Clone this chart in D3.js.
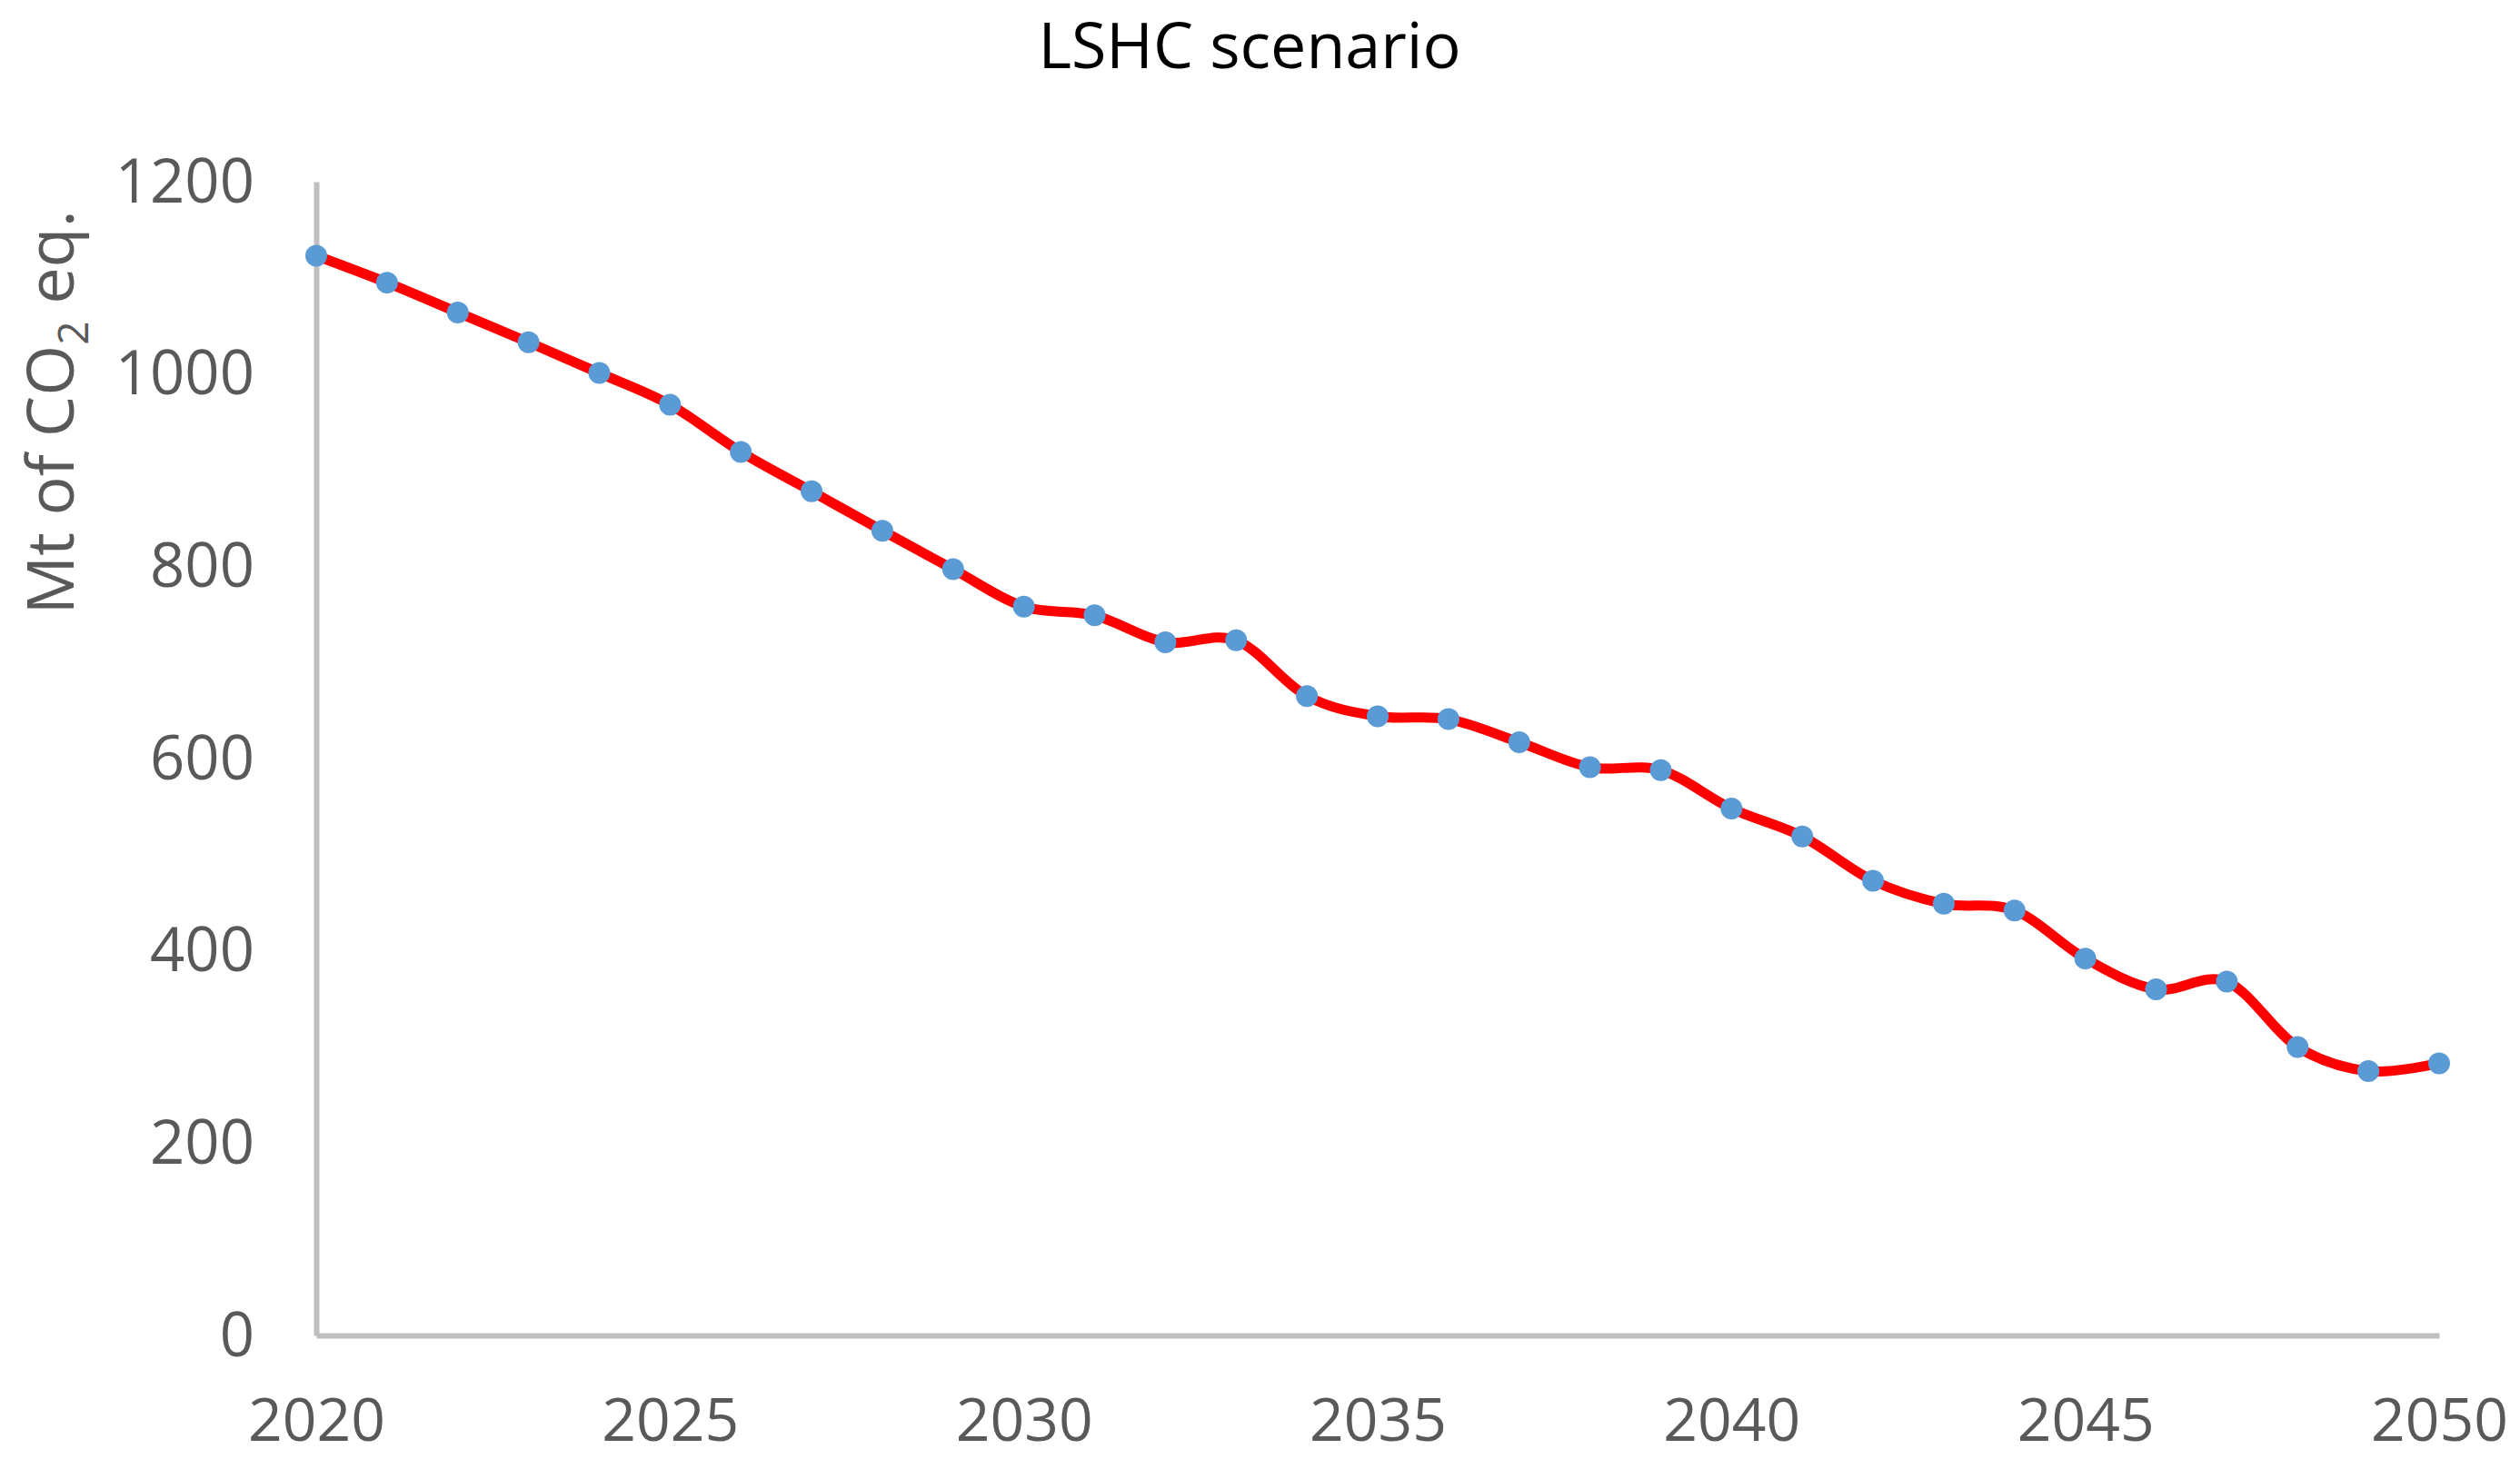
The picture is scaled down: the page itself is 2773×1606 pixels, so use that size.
<!DOCTYPE html>
<html>
<head>
<meta charset="utf-8">
<script src="https://cdn.jsdelivr.net/npm/d3@7"></script>
<style>
  html, body { margin: 0; padding: 0; background: #ffffff; }
  svg { display: block; }
</style>
</head>
<body>
<svg id="chart" width="2773" height="1606"></svg>
<script>
// ---- data ----
const years = d3.range(2020, 2051);
const emissions = [1123, 1095, 1064, 1033, 1001, 968, 919, 878, 837, 797,
                   758, 749, 721, 723, 665, 644, 641, 617, 591, 588,
                   548, 519, 473, 449, 442, 392, 360, 368, 300, 275, 283];
const yTicks = [0, 200, 400, 600, 800, 1000, 1200];
const xTicks = [2020, 2025, 2030, 2035, 2040, 2045, 2050];
const titleText = "LSHC scenario";

(function () {
  // ---- layout ----
  const W = 2773, H = 1606;
  const mLeft = 348, mRight = 2684, mTop = 200, mBottom = 1470;
  const font = "'Open Sans', 'Noto Sans', sans-serif";
  const axisColor = "#bfbfbf";
  const labelColor = "#595959";

  const svg = d3.select("#chart");
  svg.append("rect").attr("width", W).attr("height", H).attr("fill", "#ffffff");

  const x = d3.scaleLinear().domain([2020, 2050]).range([mLeft, mRight]);
  const y = d3.scaleLinear().domain([0, 1200]).range([mBottom, mTop]);

  // title
  svg.append("text")
    .attr("x", 1375).attr("y", 75)
    .attr("text-anchor", "middle")
    .attr("font-family", font).attr("font-size", 70)
    .attr("fill", "#000000")
    .text(titleText);

  // y axis
  const yAxis = svg.append("g")
    .attr("transform", `translate(${mLeft},0)`)
    .call(d3.axisLeft(y).tickValues(yTicks).tickSize(0).tickSizeOuter(0).tickPadding(68).tickFormat(d3.format("d")));
  yAxis.select(".domain").attr("stroke", axisColor).attr("stroke-width", 6);
  yAxis.selectAll("text")
    .attr("font-family", font).attr("font-size", 67)
    .attr("fill", labelColor).attr("dy", "0.33em");

  // x axis
  const xAxis = svg.append("g")
    .attr("transform", `translate(0,${mBottom})`)
    .call(d3.axisBottom(x).tickValues(xTicks).tickSize(0).tickSizeOuter(0).tickFormat(d3.format("d")));
  xAxis.select(".domain").attr("stroke", axisColor).attr("stroke-width", 6);
  xAxis.selectAll("text")
    .attr("font-family", font).attr("font-size", 66)
    .attr("fill", labelColor).attr("y", 116).attr("dy", "0");

  // y axis title
  const yt = svg.append("text")
    .attr("transform", "translate(81,454) rotate(-90)")
    .attr("text-anchor", "middle")
    .attr("font-family", font).attr("font-size", 72)
    .attr("fill", labelColor);
  yt.append("tspan").text("Mt of CO");
  yt.append("tspan").attr("font-size", 46).attr("dy", 16).text("2");
  yt.append("tspan").attr("dy", -16).text(" eq.");

  // line
  const pts = years.map((yr, i) => [yr, emissions[i]]);
  const line = d3.line()
    .x(d => x(d[0])).y(d => y(d[1]))
    .curve(d3.curveCardinal.tension(0));
  svg.append("path")
    .datum(pts)
    .attr("d", line)
    .attr("fill", "none")
    .attr("stroke", "#ff0000")
    .attr("stroke-width", 11)
    .attr("stroke-linejoin", "round")
    .attr("stroke-linecap", "round");

  // markers
  svg.append("g").selectAll("circle")
    .data(pts).join("circle")
    .attr("cx", d => x(d[0])).attr("cy", d => y(d[1]))
    .attr("r", 12)
    .attr("fill", "#5b9bd5");
})();
</script>
</body>
</html>
